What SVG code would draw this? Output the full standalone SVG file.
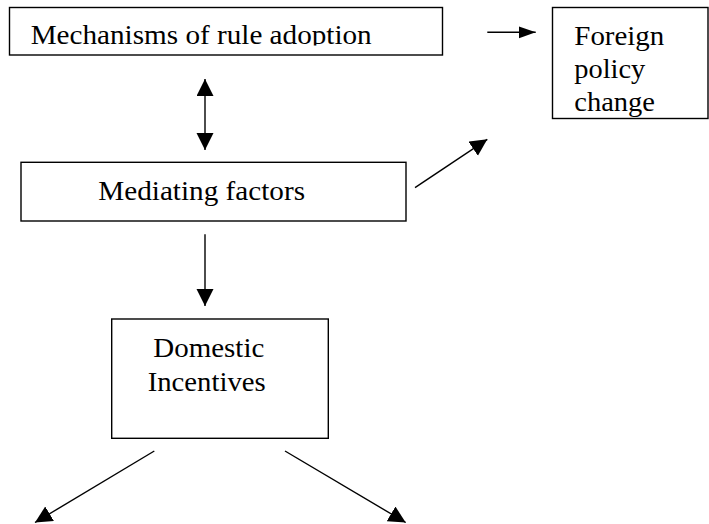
<svg xmlns="http://www.w3.org/2000/svg" width="709" height="524" viewBox="0 0 709 524">
<style>
.box{fill:#fff;stroke:#000;stroke-width:1.4}
.lbl{font-family:'Liberation Serif',Tinos,'Times New Roman','DejaVu Serif',serif;font-size:28px;fill:#000}
.con{stroke:#000;stroke-width:1.4;fill:none}
</style>
<defs>
<marker id="ah" markerUnits="userSpaceOnUse" markerWidth="18" markerHeight="18" refX="17" refY="8.5" orient="auto-start-reverse" viewBox="0 0 18 18">
<path d="M0,0 L17,8.5 L0,17 z" fill="#000"/>
</marker>
<marker id="ahs" markerUnits="userSpaceOnUse" markerWidth="18" markerHeight="13" refX="17" refY="6" orient="auto" viewBox="0 0 18 13">
<path d="M0,0 L17,6 L0,12 z" fill="#000"/>
</marker>
<clipPath id="clip1"><rect x="9" y="7" width="434" height="38.5"/></clipPath>
</defs>
<g id="node-mechanisms">
<rect class="box" x="9.5" y="7.5" width="433" height="47.5"/>
<text class="lbl" x="30.7" y="44.3" textLength="341" lengthAdjust="spacingAndGlyphs" clip-path="url(#clip1)">Mechanisms of rule adoption</text>
</g>
<g id="node-foreign">
<rect class="box" x="552.5" y="7.5" width="155.5" height="111"/>
<text class="lbl" x="574.3" y="45" textLength="90" lengthAdjust="spacingAndGlyphs">Foreign</text>
<text class="lbl" x="574.3" y="78" textLength="71" lengthAdjust="spacingAndGlyphs">policy</text>
<text class="lbl" x="574.3" y="110.5" textLength="80.7" lengthAdjust="spacingAndGlyphs">change</text>
</g>
<g id="node-mediating">
<rect class="box" x="21" y="162.3" width="385" height="58.7"/>
<text class="lbl" x="98.3" y="200" textLength="206.7" lengthAdjust="spacingAndGlyphs">Mediating factors</text>
</g>
<g id="node-domestic">
<rect class="box" x="111.7" y="319" width="216.6" height="119.3"/>
<text class="lbl" x="153.3" y="356.7" textLength="111" lengthAdjust="spacingAndGlyphs">Domestic</text>
<text class="lbl" x="147.7" y="391" textLength="118" lengthAdjust="spacingAndGlyphs">Incentives</text>
</g>
<g id="connectors">
<line class="con" x1="487.3" y1="32.3" x2="535.7" y2="32.3" marker-end="url(#ahs)"/>
<line class="con" x1="205" y1="79" x2="205" y2="150" marker-start="url(#ah)" marker-end="url(#ah)"/>
<line class="con" x1="415" y1="187.7" x2="487.3" y2="139.3" marker-end="url(#ah)"/>
<line class="con" x1="205" y1="234.3" x2="205" y2="306" marker-end="url(#ah)"/>
<line class="con" x1="154.3" y1="451" x2="35" y2="522.5" marker-end="url(#ah)"/>
<line class="con" x1="285" y1="451" x2="405.7" y2="522.5" marker-end="url(#ah)"/>
</g>
</svg>
